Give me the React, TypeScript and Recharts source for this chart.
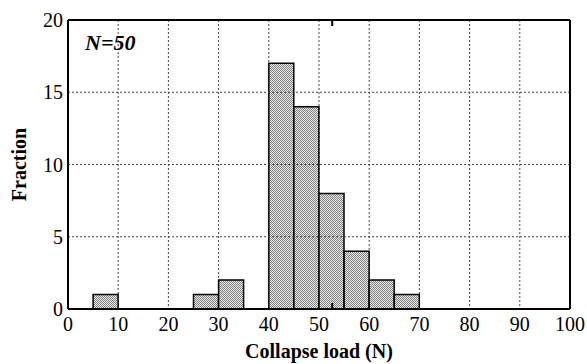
import { ComposedChart, Bar, XAxis, YAxis, CartesianGrid, ReferenceLine, Label } from 'recharts';

// histogram: bin centres (5 N wide) and counts
const binCenters = [2.5, 7.5, 12.5, 17.5, 22.5, 27.5, 32.5, 37.5, 42.5, 47.5, 52.5, 57.5, 62.5, 67.5, 72.5, 77.5, 82.5, 87.5, 92.5, 97.5];
const counts = [0, 1, 0, 0, 0, 1, 2, 0, 17, 14, 8, 4, 2, 1, 0, 0, 0, 0, 0, 0];
const xTicks = [0, 10, 20, 30, 40, 50, 60, 70, 80, 90, 100];
const yTicks = [0, 5, 10, 15, 20];
const innerXTicks = [10, 20, 30, 40, 50, 60, 70, 80, 90];
const innerYTicks = [5, 10, 15];
const sampleLabel = 'N=50';

const data = binCenters.map((c, i) => ({ load: c, count: counts[i] }));

const serif = '"Liberation Serif", "Times New Roman", serif';
const tickStyle = { fontFamily: serif, fontSize: 20, fill: '#000' };
const noTick = () => <g />;

export default function App() {
  return (
    <div style={{ position: 'absolute', left: 0, top: 0, width: 587, height: 364, background: '#fff' }}>
      <ComposedChart
        width={587}
        height={364}
        data={data}
        margin={{ top: 20, right: 17, left: 0, bottom: 0 }}
        barCategoryGap={0}
        barGap={0}
      >
        <defs>
          <pattern id="dots" width="2" height="2" patternUnits="userSpaceOnUse">
            <rect width="2" height="2" fill="#ececec" />
            <rect width="1" height="1" fill="#808080" />
            <rect x="1" y="1" width="1" height="1" fill="#808080" />
          </pattern>
        </defs>
        <CartesianGrid horizontal={false} stroke="#444" strokeDasharray="2 2" />
        <XAxis
          xAxisId={0}
          type="number"
          dataKey="load"
          domain={[0, 100]}
          ticks={xTicks}
          interval={0}
          tick={tickStyle}
          tickLine={false}
          tickSize={0}
          tickMargin={8}
          axisLine={{ stroke: '#000', strokeWidth: 2 }}
          height={55}
        >
          <Label
            value="Collapse load (N)"
            position="insideBottom"
            offset={6}
            style={{ fontFamily: serif, fontSize: 20, fontWeight: 'bold', fill: '#000' }}
          />
        </XAxis>
        <XAxis
          xAxisId="bt"
          type="number"
          domain={[0, 100]}
          ticks={innerXTicks}
          mirror
          tick={noTick}
          tickSize={6}
          tickLine={{ stroke: '#000', strokeWidth: 2 }}
          axisLine={false}
        />
        <XAxis
          xAxisId="tp"
          orientation="top"
          type="number"
          domain={[0, 100]}
          ticks={innerXTicks}
          mirror
          tick={noTick}
          tickSize={6}
          tickLine={{ stroke: '#000', strokeWidth: 2 }}
          axisLine={{ stroke: '#000', strokeWidth: 2 }}
        />
        <YAxis
          yAxisId={0}
          type="number"
          domain={[0, 20]}
          ticks={yTicks}
          interval={0}
          tick={tickStyle}
          tickLine={false}
          tickSize={0}
          tickMargin={5}
          axisLine={{ stroke: '#000', strokeWidth: 2 }}
          width={68}
        >
          <Label
            value="Fraction"
            angle={-90}
            position="insideLeft"
            offset={19}
            style={{ fontFamily: serif, fontSize: 20, fontWeight: 'bold', fill: '#000', textAnchor: 'middle' }}
          />
        </YAxis>
        <YAxis
          yAxisId="lt"
          type="number"
          domain={[0, 20]}
          ticks={innerYTicks}
          mirror
          tick={noTick}
          tickSize={6}
          tickLine={{ stroke: '#000', strokeWidth: 2 }}
          axisLine={false}
        />
        <YAxis
          yAxisId="rt"
          orientation="right"
          type="number"
          domain={[0, 20]}
          ticks={innerYTicks}
          mirror
          tick={noTick}
          tickSize={6}
          tickLine={{ stroke: '#000', strokeWidth: 2 }}
          axisLine={{ stroke: '#000', strokeWidth: 2 }}
        />
        <Bar
          dataKey="count"
          xAxisId={0}
          yAxisId={0}
          fill="url(#dots)"
          stroke="#000"
          strokeWidth={1.5}
          isAnimationActive={false}
        />
        {innerYTicks.map((v) => (
          <ReferenceLine key={v} y={v} xAxisId={0} yAxisId={0} stroke="#444" strokeDasharray="2 2" />
        ))}
      </ComposedChart>
      <div
        style={{
          position: 'absolute',
          left: 85,
          top: 30,
          fontFamily: serif,
          fontSize: 22,
          fontWeight: 'bold',
          fontStyle: 'italic',
          lineHeight: '26px',
        }}
      >
        {sampleLabel}
      </div>
    </div>
  );
}
